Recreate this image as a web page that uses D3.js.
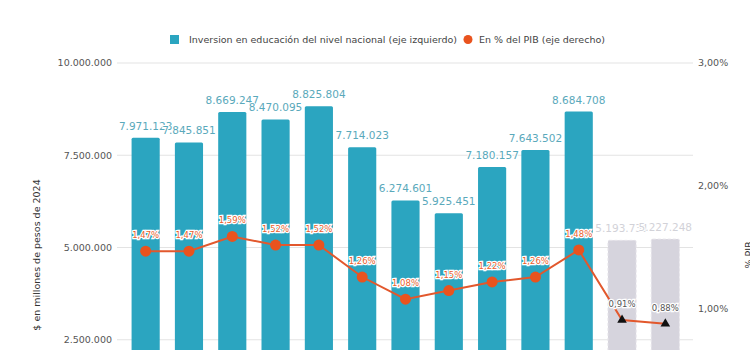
<!DOCTYPE html>
<html>
<head>
<meta charset="utf-8">
<script src="https://cdn.jsdelivr.net/npm/d3@7"></script>
<style>
  body { margin: 0; background: #fff; }
  svg { display: block; font-family: "DejaVu Sans", Verdana, sans-serif; }
</style>
</head>
<body>
<svg width="750" height="350"></svg>
<script>
// data
var years = ["2013","2014","2015","2016","2017","2018","2019","2020","2021","2022","2023","2024","2025"];
var inversion = [7971123, 7845851, 8669247, 8470095, 8825804, 7714023, 6274601, 5925451, 7180157, 7643502, 8684708, 5193731, 5227248];
var pctPib = [1.47, 1.47, 1.59, 1.52, 1.52, 1.26, 1.08, 1.15, 1.22, 1.26, 1.48, 0.91, 0.88];
var projected = [false, false, false, false, false, false, false, false, false, false, false, true, true];
var leftTicks = [2500000, 5000000, 7500000, 10000000];
var rightTicks = [1, 2, 3];

var svg = d3.select("svg");

// plot runs below the visible area (picture is cropped at the bottom)
var yBase = 432, yTop = 63;
var x = d3.scaleBand().domain(years).range([124, 687]).paddingInner(0.35).paddingOuter(0.175);
var yL = d3.scaleLinear().domain([0, 10000000]).range([yBase, yTop]);
var yR = d3.scaleLinear().domain([0, 3]).range([yBase, yTop]);

var fmtNum = function(v) { return d3.format(",")(v).replace(/,/g, "."); };
var fmtPct = function(v) { return v.toFixed(2).replace(".", ",") + "%"; };

// gridlines
svg.append("g").selectAll("line")
    .data(leftTicks)
    .enter().append("line")
    .attr("x1", 117).attr("x2", 693)
    .attr("y1", function(d) { return yL(d); })
    .attr("y2", function(d) { return yL(d); })
    .attr("stroke", "#e3e3e3");

// left axis labels
svg.append("g").selectAll("text")
    .data(leftTicks)
    .enter().append("text")
    .attr("x", 112)
    .attr("y", function(d) { return yL(d); })
    .attr("dy", "0.35em")
    .attr("text-anchor", "end")
    .attr("font-size", 9.5)
    .attr("fill", "#555")
    .text(fmtNum);

// right axis labels
svg.append("g").selectAll("text")
    .data(rightTicks)
    .enter().append("text")
    .attr("x", 698)
    .attr("y", function(d) { return yR(d); })
    .attr("dy", "0.35em")
    .attr("font-size", 9.5)
    .attr("fill", "#555")
    .text(fmtPct);

// axis titles
svg.append("text")
    .attr("transform", "translate(40,255) rotate(-90)")
    .attr("text-anchor", "middle")
    .attr("font-size", 9.5)
    .attr("fill", "#333")
    .text("$ en millones de pesos de 2024");

svg.append("text")
    .attr("transform", "translate(752,255) rotate(-90)")
    .attr("text-anchor", "middle")
    .attr("font-size", 9.5)
    .attr("fill", "#333")
    .text("% PIB");

// bars
var bars = svg.append("g");
bars.selectAll("rect")
    .data(years)
    .enter().append("rect")
    .attr("x", function(d) { return x(d); })
    .attr("y", function(d, i) { return yL(inversion[i]); })
    .attr("width", x.bandwidth())
    .attr("height", function(d, i) { return yBase - yL(inversion[i]); })
    .attr("rx", 1.5)
    .attr("fill", function(d, i) { return projected[i] ? "#d6d4dd" : "#2ba5c0"; })
    .attr("stroke", function(d, i) { return projected[i] ? "#e6e4ea" : "none"; })
    .attr("stroke-dasharray", "3,2");

bars.selectAll("text")
    .data(years)
    .enter().append("text")
    .attr("x", function(d) { return x(d) + x.bandwidth() / 2; })
    .attr("y", function(d, i) { return yL(inversion[i]) - 8; })
    .attr("text-anchor", "middle")
    .attr("font-size", 10.5)
    .attr("fill", function(d, i) { return projected[i] ? "#d2d2d8" : "#5aa9bb"; })
    .attr("stroke", "#fff")
    .attr("stroke-width", 2)
    .attr("paint-order", "stroke")
    .text(function(d, i) { return fmtNum(inversion[i]); });

// % PIB line
var cx = function(d) { return x(d) + x.bandwidth() / 2; };
var line = d3.line()
    .x(function(d, i) { return cx(years[i]); })
    .y(function(d) { return yR(d); });

svg.append("path")
    .datum(pctPib)
    .attr("d", line)
    .attr("fill", "none")
    .attr("stroke", "#e2582d")
    .attr("stroke-width", 2);

var pts = svg.append("g");
years.forEach(function(d, i) {
    if (projected[i]) {
        pts.append("path")
            .attr("d", d3.symbol().type(d3.symbolTriangle).size(40))
            .attr("transform", "translate(" + cx(d) + "," + yR(pctPib[i]) + ")")
            .attr("fill", "#111");
    } else {
        pts.append("circle")
            .attr("cx", cx(d))
            .attr("cy", yR(pctPib[i]))
            .attr("r", 5.5)
            .attr("fill", "#e9531e");
    }
});

pts.selectAll("text")
    .data(years)
    .enter().append("text")
    .attr("x", function(d) { return cx(d); })
    .attr("y", function(d, i) { return yR(pctPib[i]) - 13; })
    .attr("text-anchor", "middle")
    .attr("font-size", 8.5)
    .attr("fill", function(d, i) { return projected[i] ? "#555" : "#e9622e"; })
    .attr("stroke", "#fff")
    .attr("stroke-width", 2.5)
    .attr("paint-order", "stroke")
    .text(function(d, i) { return fmtPct(pctPib[i]); });

// legend
var legend = svg.append("g").attr("font-size", 9.5).attr("fill", "#444");
legend.append("rect")
    .attr("x", 170).attr("y", 35).attr("width", 9).attr("height", 9)
    .attr("fill", "#2ba5c0");
legend.append("text")
    .attr("x", 189).attr("y", 43)
    .text("Inversion en educación del nivel nacional (eje izquierdo)");
legend.append("circle")
    .attr("cx", 468).attr("cy", 39.5).attr("r", 4.5)
    .attr("fill", "#e9531e");
legend.append("text")
    .attr("x", 479).attr("y", 43)
    .text("En % del PIB (eje derecho)");
</script>
</body>
</html>
